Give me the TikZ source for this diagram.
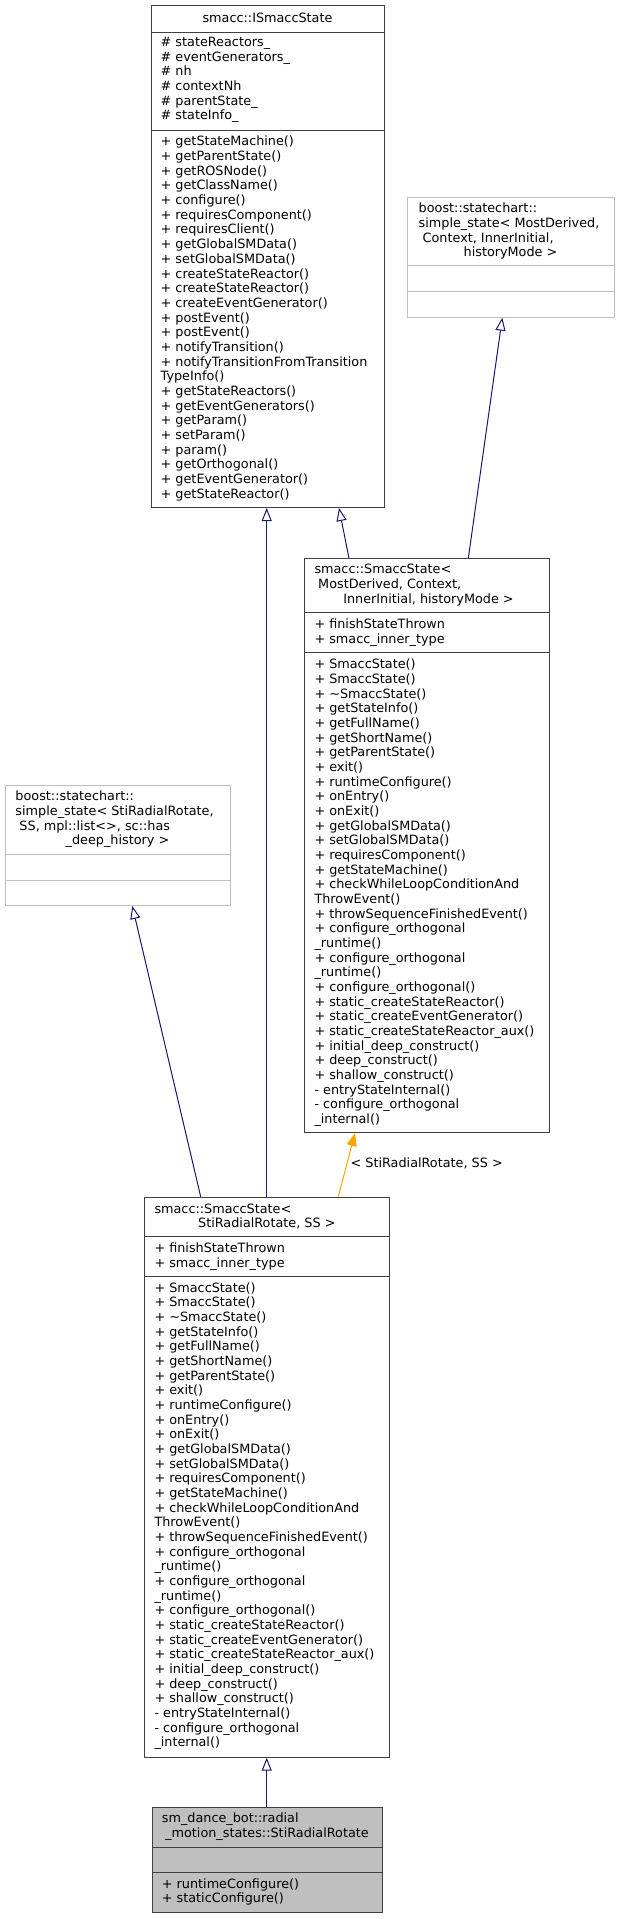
\documentclass[tikz,border=0pt]{standalone}
\usepackage{fontspec}
\setmainfont{DejaVu Sans}
\usetikzlibrary{arrows.meta}
\definecolor{edgeblue}{HTML}{191970}
\definecolor{boxdark}{HTML}{404040}
\definecolor{boxlight}{HTML}{BFBFBF}
\definecolor{fillgrey}{HTML}{BFBFBF}
\definecolor{tmplorange}{HTML}{FFA500}
\newcommand\smaccmethodlist{\strut + SmaccState()\\+ SmaccState()\\+ \textasciitilde SmaccState()\\+ getStateInfo()\\+ getFullName()\\+ getShortName()\\+ getParentState()\\+ exit()\\+ runtimeConfigure()\\+ onEntry()\\+ onExit()\\+ getGlobalSMData()\\+ setGlobalSMData()\\+ requiresComponent()\\+ getStateMachine()\\+ checkWhileLoopConditionAnd\\ThrowEvent()\\+ throwSequenceFinishedEvent()\\+ configure\_orthogonal\\\_runtime()\\+ configure\_orthogonal\\\_runtime()\\+ configure\_orthogonal()\\+ static\_createStateReactor()\\+ static\_createEventGenerator()\\+ static\_createStateReactor\_aux()\\+ initial\_deep\_construct()\\+ deep\_construct()\\+ shallow\_construct()\\- entryStateInternal()\\- configure\_orthogonal\\\_internal()}
\begin{document}
\begin{tikzpicture}[x=1pt,y=-1pt,
  umlbox/.style={draw=boxdark, line width=1pt, inner sep=0pt, anchor=north west},
  extbox/.style={umlbox, draw=boxlight},
  sepline/.style={draw=boxdark, line width=1pt},
  extsep/.style={draw=boxlight, line width=1pt},
  txt/.style={font=\fontsize{12.8}{14.67}\selectfont, inner sep=0pt, align=left, anchor=north west},
  ttl/.style={font=\fontsize{12.8}{14.67}\selectfont, inner sep=0pt, anchor=base west},
  ttlc/.style={font=\fontsize{12.8}{14.67}\selectfont, inner sep=0pt, anchor=base},
  inherit/.style={draw=edgeblue, line width=1pt, -{Triangle[open, length=13pt, width=10pt]}},
  tmpl/.style={draw=tmplorange, line width=1pt, -{Triangle[length=13pt, width=10pt, fill=tmplorange]}},
]
\useasboundingbox (0,0) rectangle (620,1919);

% ---------- smacc::ISmaccState ----------
\node[umlbox, minimum width=233pt, minimum height=502pt] (ism) at (151,5) {};
\draw[sepline] (ism.west |- 0,33) -- (ism.east |- 0,33);
\draw[sepline] (ism.west |- 0,130) -- (ism.east |- 0,130);
\node[ttlc] (ismT) at (267.5,22.3) {smacc::ISmaccState};
\node[txt] (ismA) at (160.5,36) {\strut\# stateReactors\_\\\# eventGenerators\_\\\# nh\\\# contextNh\\\# parentState\_\\\# stateInfo\_};
\node[txt] (ismM) at (160.5,135.5) {\strut + getStateMachine()\\+ getParentState()\\+ getROSNode()\\+ getClassName()\\+ configure()\\+ requiresComponent()\\+ requiresClient()\\+ getGlobalSMData()\\+ setGlobalSMData()\\+ createStateReactor()\\+ createStateReactor()\\+ createEventGenerator()\\+ postEvent()\\+ postEvent()\\+ notifyTransition()\\+ notifyTransitionFromTransition\\TypeInfo()\\+ getStateReactors()\\+ getEventGenerators()\\+ getParam()\\+ setParam()\\+ param()\\+ getOrthogonal()\\+ getEventGenerator()\\+ getStateReactor()};

% ---------- boost simple_state (right) ----------
\node[extbox, minimum width=207pt, minimum height=119.7pt] (bsr) at (407,197) {};
\draw[extsep] (bsr.west |- 0,265.7) -- (bsr.east |- 0,265.7);
\draw[extsep] (bsr.west |- 0,291) -- (bsr.east |- 0,291);
\node[ttl] (bsrT1) at (418.5,212.7) {boost::statechart::};
\node[ttl] (bsrT2) at (418.5,227.3) {simple\_state< MostDerived,};
\node[ttl] (bsrT3) at (422.5,242) {Context, InnerInitial,};
\node[ttlc] (bsrT4) at (510.5,256.7) {historyMode >};

% ---------- smacc::SmaccState< MostDerived ... > ----------
\node[umlbox, minimum width=245pt, minimum height=573.7pt] (smt) at (304.3,558.3) {};
\draw[sepline] (smt.west |- 0,612.3) -- (smt.east |- 0,612.3);
\draw[sepline] (smt.west |- 0,652.7) -- (smt.east |- 0,652.7);
\node[ttl] (smtT1) at (314.3,573.7) {smacc::SmaccState<};
\node[ttl] (smtT2) at (318,588.3) {MostDerived, Context,};
\node[ttlc] (smtT3) at (428.5,603) {InnerInitial, historyMode >};
\node[txt] (smtA) at (314.3,618) {\strut + finishStateThrown\\+ smacc\_inner\_type};
\node[txt] (smtM) at (314.3,658.2) {\smaccmethodlist};

% ---------- boost simple_state (left) ----------
\node[extbox, minimum width=225pt, minimum height=120pt] (bsl) at (5,785) {};
\draw[extsep] (bsl.west |- 0,854.3) -- (bsl.east |- 0,854.3);
\draw[extsep] (bsl.west |- 0,880) -- (bsl.east |- 0,880);
\node[ttl] (bslT1) at (15.3,800.7) {boost::statechart::};
\node[ttl] (bslT2) at (15.3,815.3) {simple\_state< StiRadialRotate,};
\node[ttl] (bslT3) at (19.3,830) {SS, mpl::list<>, sc::has};
\node[ttlc] (bslT4) at (117.5,844.7) {\_deep\_history >};

% ---------- smacc::SmaccState< StiRadialRotate, SS > ----------
\node[umlbox, minimum width=245pt, minimum height=560pt] (sms) at (144.3,1196.7) {};
\draw[sepline] (sms.west |- 0,1236.7) -- (sms.east |- 0,1236.7);
\draw[sepline] (sms.west |- 0,1276.7) -- (sms.east |- 0,1276.7);
\node[ttl] (smsT1) at (154.3,1213) {smacc::SmaccState<};
\node[ttlc] (smsT2) at (266.8,1227.7) {StiRadialRotate, SS >};
\node[txt] (smsA) at (154.3,1242) {\strut + finishStateThrown\\+ smacc\_inner\_type};
\node[txt] (smsM) at (154.3,1281.7) {\smaccmethodlist};

% ---------- sm_dance_bot::radial_motion_states::StiRadialRotate ----------
\node[umlbox, fill=fillgrey, minimum width=230.6pt, minimum height=105.6pt] (sti) at (151.7,1806.7) {};
\draw[sepline] (sti.west |- 0,1847.3) -- (sti.east |- 0,1847.3);
\draw[sepline] (sti.west |- 0,1872.3) -- (sti.east |- 0,1872.3);
\node[ttl] (stiT1) at (161.7,1822.3) {sm\_dance\_bot::radial};
\node[ttlc] (stiT2) at (267,1837) {\_motion\_states::StiRadialRotate};
\node[txt] (stiM) at (161.7,1877.7) {\strut + runtimeConfigure()\\+ staticConfigure()};

% ---------- connectors ----------
\draw[inherit] ([xshift=44.7pt]smt.north west) -- ([xshift=188pt]ism.south west);
\draw[inherit] ([xshift=164pt]smt.north west) -- ([xshift=95.3pt]bsr.south west);
\draw[inherit] ([xshift=122.4pt]sms.north west) -- ([xshift=115.7pt]ism.south west);
\draw[inherit] ([xshift=56.4pt]sms.north west) -- ([xshift=127.3pt]bsl.south west);
\draw[tmpl] ([xshift=194pt]sms.north west) -- ([xshift=50.7pt]smt.south west);
\node[ttl] (tmplLbl) at (350.4,1167) {< StiRadialRotate, SS >};
\draw[inherit] ([xshift=115pt]sti.north west) -- ([xshift=122.4pt]sms.south west);
\end{tikzpicture}
\end{document}
